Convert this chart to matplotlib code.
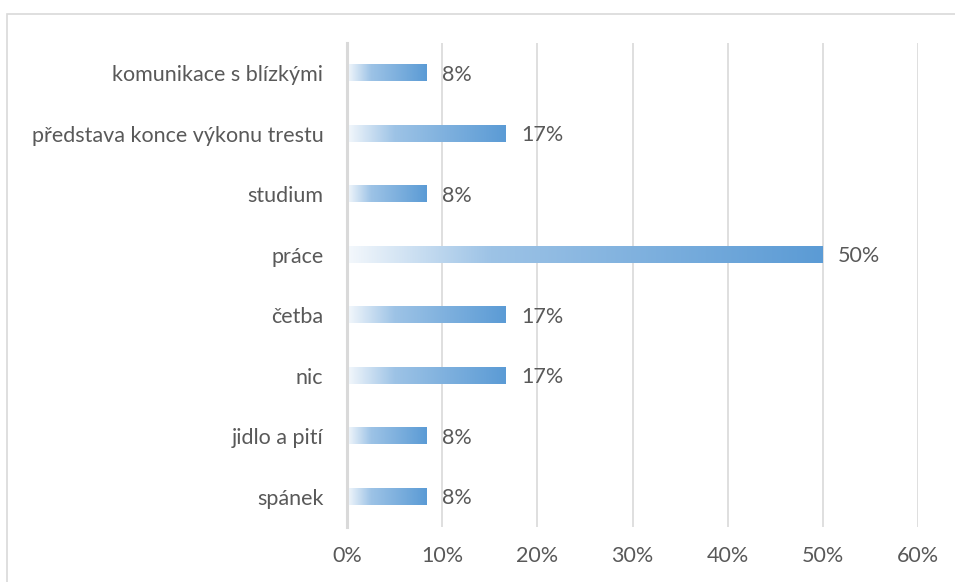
import matplotlib.pyplot as plt
import numpy as np
from matplotlib.colors import LinearSegmentedColormap
from matplotlib.patches import Rectangle
from matplotlib.ticker import PercentFormatter

categories = ['spánek', 'jidlo a pití', 'nic', 'četba', 'práce', 'studium',
              'představa konce výkonu trestu', 'komunikace s blízkými']
values = [8.33, 8.33, 16.67, 16.67, 50.0, 8.33, 16.67, 8.33]
labels = ['8%', '8%', '17%', '17%', '50%', '8%', '17%', '8%']

plt.rcParams['font.family'] = ['Lato', 'DejaVu Sans']
text_col = '#595959'
grid_col = '#D9D9D9'

fig = plt.figure(figsize=(9.55, 5.82), dpi=100)
ax = fig.add_axes([0.3634, 0.0945, 0.9613 - 0.3634, 0.926 - 0.0945])

# chart border (only top/left visible in reference)
fig.patches.append(Rectangle((0.0073, -0.05), 1.2, 0.976 + 0.05, transform=fig.transFigure,
                             fill=False, edgecolor=grid_col, linewidth=1.2))

cmap = LinearSegmentedColormap.from_list('grad', [(0.0, '#F4F8FC'), (0.3, '#9DC3E6'), (1.0, '#5B9BD5')])
grad = np.linspace(0, 1, 256).reshape(1, -1)
h = 0.27
for i, v in enumerate(values):
    ax.imshow(grad, cmap=cmap, aspect='auto', extent=(0, v, i - h / 2, i + h / 2),
              interpolation='bicubic', zorder=3)
    ax.annotate(labels[i], (v, i), xytext=(11, -1), textcoords='offset points',
                va='center', ha='left', fontsize=15.5, color=text_col)

ax.set_xlim(0, 60)
ax.set_ylim(-0.5, len(categories) - 0.5)
ax.set_yticks(range(len(categories)))
ax.set_yticklabels(categories)
ax.set_xticks(range(0, 61, 10))
ax.xaxis.set_major_formatter(PercentFormatter(decimals=0))
ax.tick_params(axis='both', length=0, labelsize=15.5, labelcolor=text_col)
ax.tick_params(axis='y', pad=17)
ax.tick_params(axis='x', pad=14)
ax.grid(axis='x', color=grid_col, linewidth=1.2, zorder=0)
ax.set_axisbelow(True)
for s in ['top', 'right', 'bottom']:
    ax.spines[s].set_visible(False)
ax.spines['left'].set_color(grid_col)
ax.spines['left'].set_linewidth(2.2)
ax.spines['left'].set_zorder(4)

fig.savefig('out.png', dpi=100)
